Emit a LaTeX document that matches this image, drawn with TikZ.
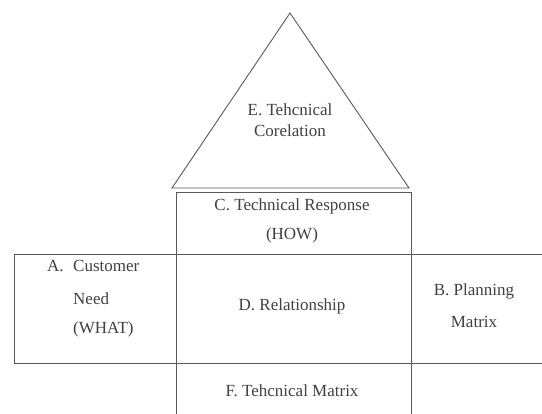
\documentclass[tikz,border=0pt]{standalone}
\usepackage{fontspec}
\setmainfont{Liberation Serif}
\tikzset{
  frame/.style={draw=black!65, line width=0.9pt},
  lbl/.style={inner sep=0pt, text=black!75, font=\fontsize{17}{20}\selectfont}
}
\begin{document}
\begin{tikzpicture}[x=1pt,y=-1pt]

  \useasboundingbox (0,0) rectangle (542,414);
  \def\xl{176};
  \def\xr{411};

	%roof
  \draw[frame] (290,13) -- (409,188) -- (172,188) -- cycle;

	%house
  \draw[frame] (\xl,420) -- (\xl,192) -- (\xr,192) -- (\xr,420);
  \draw[frame] (560,254) -- (14,254) -- (14,363) -- (560,363);

	%labels
  \node[lbl] (roof1) at (290,110) {E. Tehcnical};
  \node[lbl] (roof2) at (290,131) {Corelation};

  \foreach \y/\txt/\name in {206/C. Technical Response/how1, 235/(HOW)/how2, 306/D. Relationship/rel, 391/F. Tehcnical Matrix/tech}{
       \node[lbl] (\name) at (292,\y) {\txt};
  }

  \node[lbl,anchor=west] (whatA) at (47,266) {A.};
  \foreach \y/\txt/\name in {266/Customer/what1, 299/Need/what2, 329/(WHAT)/what3}{
       \node[lbl,anchor=west] (\name) at (73,\y) {\txt};
  }

  \node[lbl] (plan1) at (474,291) {B. Planning};
  \node[lbl] (plan2) at (474,322) {Matrix};

\end{tikzpicture}
\end{document}
